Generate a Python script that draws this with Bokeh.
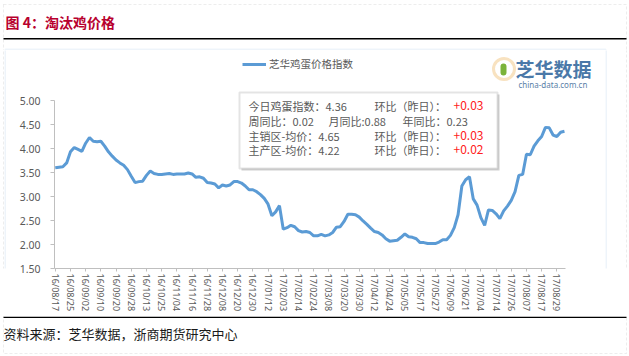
from bokeh.plotting import figure
from bokeh.models import (Range1d, FixedTicker, NumeralTickFormatter, Label, BoxAnnotation,
                          Legend, LegendItem, ColumnDataSource)
from bokeh.layouts import column, row
from bokeh.embed import file_html
from bokeh.resources import INLINE

# ---------------- data ----------------
date_labels = ["16/08/17", "16/08/25", "16/09/02", "16/09/10", "16/09/20", "16/09/28",
               "16/10/13", "16/10/25", "16/11/04", "16/11/16", "16/11/28", "16/12/08",
               "16/12/20", "16/12/30", "17/01/12", "17/02/03", "17/02/14", "17/02/24",
               "17/03/08", "17/03/20", "17/03/30", "17/04/12", "17/04/24", "17/05/05",
               "17/05/17", "17/05/27", "17/06/09", "17/06/21", "17/07/04", "17/07/14",
               "17/07/26", "17/08/07", "17/08/17", "17/08/29"]
points_per_label = 4

egg_index = [3.60, 3.61, 3.62, 3.70, 3.93, 4.02, 3.98, 3.94, 4.11, 4.23,
             4.15, 4.14, 4.15, 4.05, 3.93, 3.84, 3.76, 3.70, 3.65, 3.56,
             3.42, 3.29, 3.31, 3.32, 3.44, 3.53, 3.48, 3.46, 3.46, 3.47,
             3.48, 3.46, 3.47, 3.47, 3.47, 3.49, 3.47, 3.40, 3.41, 3.38,
             3.29, 3.28, 3.26, 3.18, 3.24, 3.22, 3.24, 3.31, 3.31, 3.28,
             3.22, 3.14, 3.14, 3.10, 3.04, 2.96, 2.84, 2.60, 2.68, 2.81,
             2.32, 2.35, 2.40, 2.37, 2.29, 2.26, 2.27, 2.25, 2.18, 2.18,
             2.21, 2.18, 2.20, 2.25, 2.36, 2.37, 2.48, 2.63, 2.63, 2.62,
             2.57, 2.49, 2.42, 2.34, 2.27, 2.25, 2.20, 2.12, 2.07, 2.08,
             2.09, 2.15, 2.22, 2.16, 2.15, 2.12, 2.04, 2.04, 2.02, 2.02,
             2.02, 2.05, 2.10, 2.10, 2.19, 2.35, 2.62, 3.22, 3.35, 3.41,
             2.95, 2.82, 2.56, 2.40, 2.72, 2.71, 2.64, 2.54, 2.70, 2.80,
             2.92, 3.10, 3.44, 3.46, 3.88, 3.87, 4.05, 4.16, 4.25, 4.44,
             4.43, 4.28, 4.25, 4.34, 4.36]

y_ticks = [1.5, 2.0, 2.5, 3.0, 3.5, 4.0, 4.5, 5.0]
series_name = "芝华鸡蛋价格指数"
title_text = "图 4：淘汰鸡价格"
source_text = "资料来源：芝华数据，浙商期货研究中心"
info_rows = [
    ("今日鸡蛋指数：4.36", "环比（昨日）：", "+0.03"),
    ("周同比：0.02", "月同比:0.88", "年同比：0.23"),
    ("主销区-均价：4.65", "环比（昨日）：", "+0.03"),
    ("主产区-均价：4.22", "环比（昨日）：", "+0.02"),
]

W, H = 629, 356
CJK = "Noto Sans CJK SC"
DASH = "#C4C4C4"
BLUE_BOX = "#C6D9F0"

HEADER_H = 50      # page y 0..50
CHART_TOP = 50
CHART_BOT = 316    # page y where footer starts
LEFT_W = 6
RIGHT_X = 605


def blank(width, height):
    f = figure(width=width, height=height, output_backend="svg", toolbar_location=None,
               x_range=Range1d(0, 1), y_range=Range1d(0, 1),
               x_axis_location=None, y_axis_location=None,
               min_border=0, min_border_left=0, min_border_right=0,
               min_border_top=0, min_border_bottom=0,
               background_fill_color="white", border_fill_color="white")
    f.outline_line_color = None
    f.grid.visible = False
    return f


def make_box(f, ox, oy):
    def box(l, t, r_, b, **kw):
        f.add_layout(BoxAnnotation(left=l - ox, right=r_ - ox, top=t - oy, bottom=b - oy,
                                   left_units="canvas", right_units="canvas",
                                   top_units="canvas", bottom_units="canvas", **kw))
    return box


def make_text(f, ox, oy):
    def text(px, py, s, **kw):
        kw.setdefault("text_font", CJK)
        kw.setdefault("text_baseline", "middle")
        f.add_layout(Label(x=px - ox, y=py - oy, x_units="canvas", y_units="canvas",
                           text=s, **kw))
    return text


# ---------------- header ----------------
hdr = blank(W, HEADER_H)
hbox, htext = make_box(hdr, 0, 0), make_text(hdr, 0, 0)
hbox(3, 4, 626, 400, fill_alpha=0, line_color=DASH, line_dash="3 2", line_width=1)
hbox(3, 37.5, 626, 39, fill_color="black", fill_alpha=1, line_alpha=0)
hbox(5, 49, 605, 400, fill_alpha=0, line_color=BLUE_BOX, line_width=2)
htext(5, 21, title_text, text_font_size="14px", text_font_style="bold", text_color="#B8002E")

# ---------------- left / right strips ----------------
CH = CHART_BOT - CHART_TOP
lst = blank(LEFT_W, CH)
lbox = make_box(lst, 0, CHART_TOP)
lbox(3, -100, 50, 600, fill_alpha=0, line_color=DASH, line_dash="3 2", line_width=1)
lbox(5, -100, 50, 600, fill_alpha=0, line_color=BLUE_BOX, line_width=2)

rst = blank(W - RIGHT_X, CH)
rbox = make_box(rst, RIGHT_X, CHART_TOP)
rbox(500, -100, 626, 600, fill_alpha=0, line_color=DASH, line_dash="3 2", line_width=1)
rbox(500, -100, 605.5, 600, fill_alpha=0, line_color=BLUE_BOX, line_width=2)

# ---------------- chart ----------------
FRAME_L, FRAME_B = 54, 268
px_per_x = 3.80
px_per_y = 48.0
x0 = -0.2
x_end = x0 + (RIGHT_X - FRAME_L) / px_per_x
y_end = 1.5 + (FRAME_B - CHART_TOP) / px_per_y

x = list(range(len(egg_index)))
src = ColumnDataSource(dict(x=x, y=egg_index))

p = figure(width=RIGHT_X - LEFT_W, height=CH, output_backend="svg", toolbar_location=None,
           x_range=Range1d(x0, x_end), y_range=Range1d(1.5, y_end),
           min_border_left=FRAME_L - LEFT_W, min_border_right=0, min_border_top=0,
           min_border_bottom=CHART_BOT - FRAME_B,
           background_fill_color="white", border_fill_color="white")
p.outline_line_color = None
p.grid.visible = False

r = p.line("x", "y", source=src, line_color="#5B9BD5", line_width=3)

p.yaxis.ticker = FixedTicker(ticks=y_ticks)
p.yaxis.bounds = (1.5, 5.0)
p.yaxis.formatter = NumeralTickFormatter(format="0.00")
p.yaxis.axis_line_color = "#BFBFBF"
p.yaxis.major_tick_line_color = "#BFBFBF"
p.yaxis.major_tick_out = 4
p.yaxis.major_tick_in = 0
p.yaxis.minor_tick_line_color = None
p.yaxis.major_label_standoff = 10
p.yaxis.major_label_text_font = "Noto Sans"
p.yaxis.major_label_text_font_size = "10.5px"
p.yaxis.major_label_text_color = "#595959"

tick_pos = [i * points_per_label for i in range(len(date_labels))]
p.xaxis.ticker = FixedTicker(ticks=tick_pos)
p.xaxis.bounds = (x0, 134.3)
p.xaxis.major_label_overrides = {t: lab for t, lab in zip(tick_pos, date_labels)}
p.xaxis.major_label_orientation = "vertical"
p.xaxis.axis_line_color = "#BFBFBF"
p.xaxis.major_tick_line_color = "#BFBFBF"
p.xaxis.major_tick_out = 3
p.xaxis.major_tick_in = 0
p.xaxis.minor_tick_line_color = None
p.xaxis.major_label_standoff = 2
p.xaxis.major_label_text_font = "Noto Sans"
p.xaxis.major_label_text_font_size = "9px"
p.xaxis.major_label_text_color = "#595959"

legend = Legend(items=[LegendItem(label=series_name, renderers=[r])],
                location=(188, 197), orientation="horizontal",
                glyph_width=24, glyph_height=12, label_height=12, label_standoff=3,
                padding=0, margin=0, border_line_color=None, background_fill_alpha=0,
                label_text_font=CJK, label_text_font_size="10.5px", label_text_color="#595959")
p.add_layout(legend)

box, text = make_box(p, LEFT_W, CHART_TOP), make_text(p, LEFT_W, CHART_TOP)

# info box with shadow
box(241, 94, 499, 170, fill_color="#D0D0D0", fill_alpha=1, line_alpha=0)
box(239, 92, 497, 168, fill_color="white", fill_alpha=1, line_color="#A6A6A6", line_width=2)
row_y = [105, 120, 135, 149]
for (a, b, c), yy in zip(info_rows, row_y):
    text(248, yy, a, text_font_size="11px", text_color="#595959")
    if c.startswith("+"):
        text(374, yy, b, text_font_size="11px", text_color="#595959")
        text(453, yy, c, text_font_size="12px", text_color="#FF2020")
    else:
        text(328, yy, b, text_font_size="11px", text_color="#595959")
        text(402, yy, c, text_font_size="11px", text_color="#595959")

# logo
box(493, 58, 514, 79, fill_alpha=0, line_color="#E8A030", line_width=3, border_radius=11)
box(500, 63, 506, 75, fill_color="#7BB33A", fill_alpha=1, line_alpha=0, border_radius=3)
text(515, 68, "芝华数据", text_font_size="19px", text_color="#4A78A8", text_font_style="bold")
text(518, 84, "china-data.com.cn", text_font="Noto Sans", text_font_size="8px",
     text_color="#5A7FA8")

# ---------------- footer ----------------
ftr = blank(W, H - CHART_BOT)
fbox, ftext = make_box(ftr, 0, CHART_BOT), make_text(ftr, 0, CHART_BOT)
fbox(3, -100, 626, 353, fill_alpha=0, line_color=DASH, line_dash="3 2", line_width=1)
fbox(3, 316, 626, 317.5, fill_color="black", fill_alpha=1, line_alpha=0)
ftext(3, 333, source_text, text_font_size="13px", text_color="#1A1A1A")

layout = column(hdr, row(lst, p, rst), ftr)
open("out.html", "w").write(file_html(layout, INLINE))
